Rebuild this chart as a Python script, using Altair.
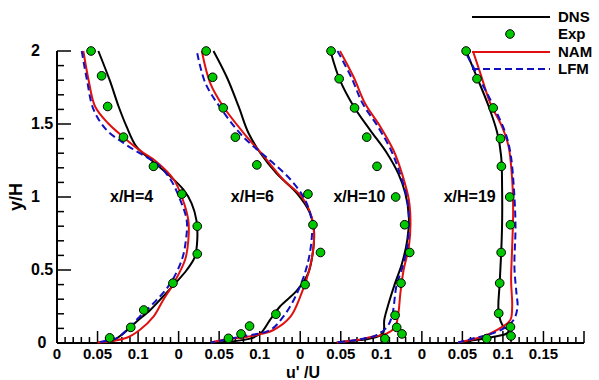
import altair as alt
import pandas as pd

# ---------------- data ----------------
stations = ["x/H=4", "x/H=6", "x/H=10", "x/H=19"]
offsets = [0.0, 0.15, 0.30, 0.45]

dns_u = [
    [0.051, 0.065, 0.076, 0.086, 0.098, 0.119, 0.140, 0.156, 0.166, 0.172, 0.173, 0.170, 0.160, 0.146, 0.131, 0.115, 0.098, 0.082, 0.070, 0.050],
    [0.043, 0.0595, 0.074, 0.086, 0.101, 0.121, 0.146, 0.162, 0.167, 0.166, 0.160, 0.146, 0.125, 0.113, 0.101, 0.088, 0.050],
    [0.038, 0.049, 0.066, 0.086, 0.107, 0.121, 0.1296, 0.134, 0.132, 0.1255, 0.117, 0.109, 0.1037, 0.102, 0.086, 0.074, 0.045],
    [0.0546, 0.068, 0.0825, 0.093, 0.0978, 0.099, 0.099, 0.0978, 0.096, 0.0948, 0.101, 0.107, 0.105, 0.0886, 0.072, 0.045],
]
dns_y = [
    [2.0, 1.80, 1.62, 1.48, 1.345, 1.24, 1.14, 1.05, 0.957, 0.84, 0.705, 0.59, 0.50, 0.41, 0.32, 0.226, 0.146, 0.066, 0.02, 0.004],
    [2.0, 1.82, 1.62, 1.44, 1.30, 1.16, 1.025, 0.89, 0.77, 0.64, 0.48, 0.36, 0.25, 0.16, 0.066, 0.03, 0.004],
    [1.985, 1.80, 1.62, 1.46, 1.30, 1.16, 1.025, 0.865, 0.705, 0.545, 0.41, 0.27, 0.16, 0.066, 0.03, 0.02, 0.004],
    [2.0, 1.82, 1.62, 1.44, 1.28, 1.05, 0.82, 0.61, 0.41, 0.203, 0.11, 0.089, 0.066, 0.043, 0.025, 0.004],
]

nam_u = [
    [0.0325, 0.039, 0.047, 0.063, 0.082, 0.102, 0.123, 0.144, 0.154, 0.162, 0.162, 0.158, 0.144, 0.131, 0.119, 0.102, 0.086, 0.065, 0.050],
    [0.0286, 0.039, 0.055, 0.080, 0.105, 0.129, 0.152, 0.164, 0.167, 0.162, 0.150, 0.138, 0.117, 0.0965, 0.076, 0.059, 0.040],
    [0.049, 0.066, 0.080, 0.099, 0.115, 0.1255, 0.134, 0.136, 0.134, 0.1275, 0.1235, 0.121, 0.117, 0.107, 0.086, 0.070, 0.045],
    [0.063, 0.072, 0.0846, 0.099, 0.107, 0.1114, 0.1126, 0.1114, 0.1101, 0.1114, 0.1093, 0.099, 0.0846, 0.068, 0.045],
]
nam_y = [
    [2.0, 1.80, 1.62, 1.505, 1.41, 1.32, 1.24, 1.12, 1.0, 0.84, 0.705, 0.57, 0.41, 0.295, 0.18, 0.089, 0.036, 0.012, 0.004],
    [2.0, 1.78, 1.62, 1.44, 1.28, 1.12, 1.0, 0.865, 0.705, 0.52, 0.317, 0.18, 0.089, 0.055, 0.036, 0.025, 0.004],
    [2.0, 1.82, 1.64, 1.48, 1.32, 1.16, 0.98, 0.82, 0.66, 0.50, 0.34, 0.203, 0.11, 0.066, 0.039, 0.02, 0.004],
    [2.0, 1.85, 1.64, 1.48, 1.345, 1.12, 0.89, 0.66, 0.43, 0.25, 0.16, 0.11, 0.066, 0.032, 0.004],
]

lfm_u = [
    [0.0305, 0.037, 0.045, 0.061, 0.082, 0.102, 0.123, 0.140, 0.152, 0.160, 0.159, 0.154, 0.140, 0.123, 0.102, 0.086, 0.074, 0.050],
    [0.023, 0.033, 0.053, 0.080, 0.113, 0.138, 0.156, 0.164, 0.164, 0.158, 0.144, 0.129, 0.113, 0.076, 0.040],
    [0.046, 0.063, 0.077, 0.096, 0.112, 0.123, 0.132, 0.134, 0.132, 0.125, 0.119, 0.113, 0.107, 0.0947, 0.074, 0.045],
    [0.0558, 0.072, 0.0886, 0.103, 0.1093, 0.1134, 0.1155, 0.1142, 0.1167, 0.118, 0.1134, 0.101, 0.0846, 0.064, 0.045],
]
lfm_y = [
    [2.0, 1.80, 1.60, 1.46, 1.37, 1.30, 1.23, 1.12, 0.98, 0.84, 0.705, 0.57, 0.41, 0.295, 0.18, 0.089, 0.034, 0.004],
    [1.985, 1.78, 1.60, 1.41, 1.25, 1.12, 0.98, 0.84, 0.705, 0.52, 0.317, 0.18, 0.089, 0.043, 0.004],
    [2.0, 1.82, 1.64, 1.48, 1.32, 1.16, 0.98, 0.82, 0.66, 0.50, 0.40, 0.18, 0.11, 0.055, 0.025, 0.004],
    [1.97, 1.80, 1.62, 1.44, 1.30, 1.07, 0.80, 0.52, 0.34, 0.25, 0.16, 0.10, 0.062, 0.032, 0.004],
]

exp_u = [
    [0.042, 0.055, 0.0625, 0.082, 0.119, 0.154, 0.173, 0.173, 0.143, 0.107, 0.091, 0.065],
    [0.034, 0.042, 0.055, 0.070, 0.0965, 0.1595, 0.1657, 0.175, 0.156, 0.120, 0.0875, 0.077, 0.0615],
    [0.038, 0.048, 0.067, 0.082, 0.0947, 0.1177, 0.1288, 0.135, 0.1243, 0.117, 0.119, 0.1255, 0.1045],
    [0.0546, 0.068, 0.088, 0.097, 0.0981, 0.1084, 0.1093, 0.0978, 0.096, 0.0948, 0.1093, 0.110, 0.080],
]
exp_y = [
    [2.0, 1.83, 1.62, 1.41, 1.21, 1.02, 0.80, 0.61, 0.41, 0.226, 0.107, 0.035],
    [2.0, 1.82, 1.61, 1.41, 1.22, 1.02, 0.81, 0.62, 0.40, 0.197, 0.116, 0.062, 0.032],
    [2.0, 1.81, 1.61, 1.41, 1.21, 1.0, 0.81, 0.62, 0.41, 0.19, 0.107, 0.062, 0.030],
    [2.0, 1.81, 1.61, 1.40, 1.21, 1.0, 0.81, 0.62, 0.41, 0.203, 0.11, 0.048, 0.030],
]

station_label_x = [0.092, 0.241, 0.373, 0.509]
station_label_y = [1.0, 1.0, 1.0, 1.0]

x_tick_labels = ["0", "0.05", "0.1", "0", "0.05", "0.1", "0", "0.05", "0.1", "0", "0.05", "0.1", "0.15"]
y_tick_values = [0.5, 1, 1.5, 2]
y_zero_label = [0]

legend_names = ["DNS", "Exp", "NAM", "LFM"]

# ---------------- build tables ----------------
rows = []
for name, U, Y in [("DNS", dns_u, dns_y), ("NAM", nam_u, nam_y), ("LFM", lfm_u, lfm_y), ("Exp", exp_u, exp_y)]:
    for p, (us, ys_) in enumerate(zip(U, Y)):
        for i, (u, y) in enumerate(zip(us, ys_)):
            rows.append({"series": name, "station": stations[p], "i": i, "x": u + offsets[p], "y": y})
df = pd.DataFrame(rows)

labels_df = pd.DataFrame({"label": stations, "x": station_label_x, "y": station_label_y})
xlab_df = pd.DataFrame({"v": [round(0.05 * k, 2) for k in range(len(x_tick_labels))], "t": x_tick_labels})
ylab_df = pd.DataFrame({"v": y_tick_values, "t": [("%g" % v) for v in y_tick_values]})
ylab0_df = pd.DataFrame({"v": y_zero_label, "t": [("%g" % v) for v in y_zero_label]})

x_major = [round(0.05 * k, 2) for k in range(14)]
x_minor = [round(0.01 * k, 2) for k in range(66) if k % 5]
y_major = [round(0.5 * k, 1) for k in range(5)]
y_minor = [round(0.1 * k, 1) for k in range(21) if k % 5]

FONT = "Liberation Sans"
W, H = 527, 292
xs = alt.Scale(domain=[0, 0.65], nice=False, zero=False)
ys = alt.Scale(domain=[0, 2], nice=False, zero=False)

RED = "#e01010"
BLUE = "#1010c0"
GREEN = "#00c800"

# axis lines
xdom = alt.Chart(pd.DataFrame({"a": [0.0], "b": [0.65]})).mark_rule(color="black", strokeWidth=2).encode(
    x=alt.X("a:Q", scale=xs, axis=None), x2="b:Q", y=alt.value(H))
ydom = alt.Chart(pd.DataFrame({"a": [0.0], "b": [2.0]})).mark_rule(color="black", strokeWidth=2).encode(
    y=alt.Y("a:Q", scale=ys, axis=None), y2="b:Q", x=alt.value(0))

def xticks(vals, length):
    return alt.Chart(pd.DataFrame({"v": vals})).mark_rule(color="black", strokeWidth=1.5).encode(
        x=alt.X("v:Q", scale=xs, axis=None), y=alt.value(H), y2=alt.value(H - length))

def yticks(vals, length):
    return alt.Chart(pd.DataFrame({"v": vals})).mark_rule(color="black", strokeWidth=1.5).encode(
        y=alt.Y("v:Q", scale=ys, axis=None), x=alt.value(0), x2=alt.value(length))

# tick labels
xlabels = alt.Chart(xlab_df).mark_text(
    font=FONT, fontSize=15, fontWeight="bold", color="black", align="center", baseline="top", dy=4
).encode(x=alt.X("v:Q", scale=xs, axis=None), y=alt.value(H), text="t:N")
ylabels = alt.Chart(ylab_df).mark_text(
    font=FONT, fontSize=16, fontWeight="bold", color="black", align="left", baseline="middle"
).encode(y=alt.Y("v:Q", scale=ys, axis=None), x=alt.value(-26), text="t:N")
ylabel0 = alt.Chart(ylab0_df).mark_text(
    font=FONT, fontSize=16, fontWeight="bold", color="black", align="center", baseline="middle"
).encode(y=alt.Y("v:Q", scale=ys, axis=None), x=alt.value(-15), text="t:N")

xtitle = alt.Chart(pd.DataFrame({"t": ["u' /U"]})).mark_text(
    font=FONT, fontSize=16, fontWeight="bold", color="black", align="center", baseline="alphabetic"
).encode(x=alt.value(246), y=alt.value(H + 35), text="t:N")
ytitle = alt.Chart(pd.DataFrame({"t": ["y/H"]})).mark_text(
    font=FONT, fontSize=18, fontWeight="bold", color="black", align="center", baseline="middle", angle=270
).encode(x=alt.value(-40), y=alt.value(H / 2), text="t:N")

def profile(name, color, dash):
    kw = dict(color=color, strokeWidth=2, interpolate="catmull-rom", clip=False)
    if dash:
        kw["strokeDash"] = dash
    return alt.Chart(df).transform_filter(alt.datum.series == name).mark_line(**kw).encode(
        x=alt.X("x:Q", scale=xs, axis=None), y=alt.Y("y:Q", scale=ys, axis=None),
        detail="station:N", order="i:Q")

dns_line = profile("DNS", "black", None)
nam_line = profile("NAM", RED, None)
lfm_line = profile("LFM", BLUE, [7, 4])

exp_pts = alt.Chart(df).transform_filter(alt.datum.series == "Exp").mark_point(
    shape="circle", filled=True, fill=GREEN, stroke="black", strokeWidth=1, size=75, opacity=1, clip=False
).encode(x=alt.X("x:Q", scale=xs, axis=None), y=alt.Y("y:Q", scale=ys, axis=None))

station_text = alt.Chart(labels_df).mark_text(
    font=FONT, fontSize=16, fontWeight="bold", color="black", align="center", baseline="middle"
).encode(x=alt.X("x:Q", scale=xs, axis=None), y=alt.Y("y:Q", scale=ys, axis=None), text="label:N")

# legend (manual, top right)
leg_y = [-34, -17, 1, 18]
legend_layers = []
styles = {"DNS": ("black", None), "NAM": (RED, None), "LFM": (BLUE, [7, 4])}
for k, name in enumerate(legend_names):
    if name == "Exp":
        legend_layers.append(alt.Chart(pd.DataFrame({"n": [name]})).mark_point(
            shape="circle", filled=True, fill=GREEN, stroke="black", strokeWidth=1, size=75, opacity=1, clip=False
        ).encode(x=alt.value(453), y=alt.value(leg_y[k])))
    else:
        col, dash = styles[name]
        kw = dict(color=col, strokeWidth=2)
        if dash:
            kw["strokeDash"] = dash
        legend_layers.append(alt.Chart(pd.DataFrame({"n": [name]})).mark_rule(**kw).encode(
            x=alt.value(415), x2=alt.value(493), y=alt.value(leg_y[k])))
    legend_layers.append(alt.Chart(pd.DataFrame({"n": [name]})).mark_text(
        font=FONT, fontSize=15, fontWeight="bold", color="black", align="left", baseline="middle"
    ).encode(x=alt.value(501), y=alt.value(leg_y[k]), text="n:N"))

chart = alt.layer(
    xdom, ydom,
    xticks(x_major, 12), xticks(x_minor, 6),
    yticks(y_major, 14), yticks(y_minor, 7),
    xlabels, ylabels, ylabel0, xtitle, ytitle,
    dns_line, nam_line, lfm_line, exp_pts, station_text,
    *legend_layers,
).properties(
    width=W, height=H,
    padding={"left": 57, "top": 51, "right": 15, "bottom": 37},
    autosize=alt.AutoSizeParams(type="none"),
    background="white",
).configure_view(stroke=None)

chart.save("out.html", embed_options={"renderer": "svg", "actions": False})
